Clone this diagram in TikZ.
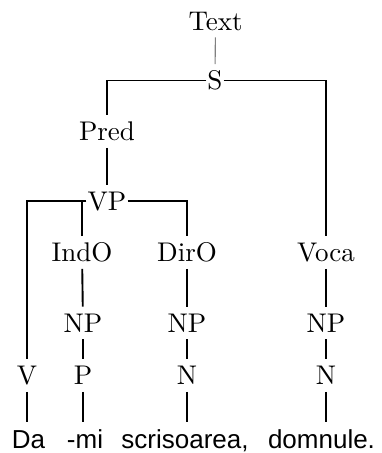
\documentclass[tikz,border=0pt]{standalone}
\usepackage{fontspec}
\newfontfamily\wordfont{Liberation Sans}
\newfontfamily\catfont{lmroman10-regular.otf}
\usetikzlibrary{positioning}
\begin{document}
\begin{tikzpicture}[x=1pt,y=-1pt,cat/.style={font=\catfont\fontsize{27}{30}\selectfont,text height=18.2pt,text depth=0pt,inner xsep=1pt,inner ysep=7pt},word/.style={font=\wordfont\fontsize{26}{30}\selectfont,anchor=base,text height=18.6pt,text depth=0pt,inner ysep=1pt},edge/.style={line width=1.9pt},top edge/.style={line width=1.1pt,gray},leaf edge/.style={edge,shorten >=6pt}]
\useasboundingbox (0,0) rectangle (381,453);
% categories
\node[cat] (txt) at (215.5,21){Text};
\node[cat] (s) at (215,80.5){S};
\node[cat] (pred) at (107,131.5){Pred};
\node[cat] (vp) at (107,201){VP};
\node[cat] (indo) at (82,252.5){IndO};
\node[cat] (diro) at (187,252.5){DirO};
\node[cat] (voca) at (326,252.5){Voca};
\node[cat] (np1) at (83,323){NP};
\node[cat] (np2) at (187,323){NP};
\node[cat] (np3) at (326,323){NP};
\node[cat] (v) at (27,375.5){V};
\node[cat] (p) at (83,375.5){P};
\node[cat] (n1) at (187,375.5){N};
\node[cat] (n2) at (326,375.5){N};
% words
\node[word] (da) at (28.5,448){Da};
\node[word] (mi) at (85,448){-mi};
\node[word] (scris) at (185,448){scrisoarea,};
\node[word] (domn) at (321.5,448){domnule.};
\draw[top edge] (txt) -- (s); \draw[edge] (s.west) -| (pred.north); \draw[edge] (s.east) -| (voca.north); \draw[edge] (pred) -- (vp); \draw[edge] (vp.west) -| (v.north); \draw[edge] (indo.north) -- (indo.north |- vp.west); \draw[edge] (vp.east) -| (diro.north);
\draw[edge] (indo) -- (np1); \draw[edge] (diro) -- (np2); \draw[edge] (voca) -- (np3); \draw[edge] (np1) -- (p); \draw[edge] (np2) -- (n1); \draw[edge] (np3) -- (n2);
\draw[leaf edge] (v) -- (v.south |- da.north); \draw[leaf edge] (p) -- (p.south |- mi.north); \draw[leaf edge] (n1) -- (n1.south |- scris.north); \draw[leaf edge] (n2) -- (n2.south |- domn.north);
\end{tikzpicture}
\end{document}
